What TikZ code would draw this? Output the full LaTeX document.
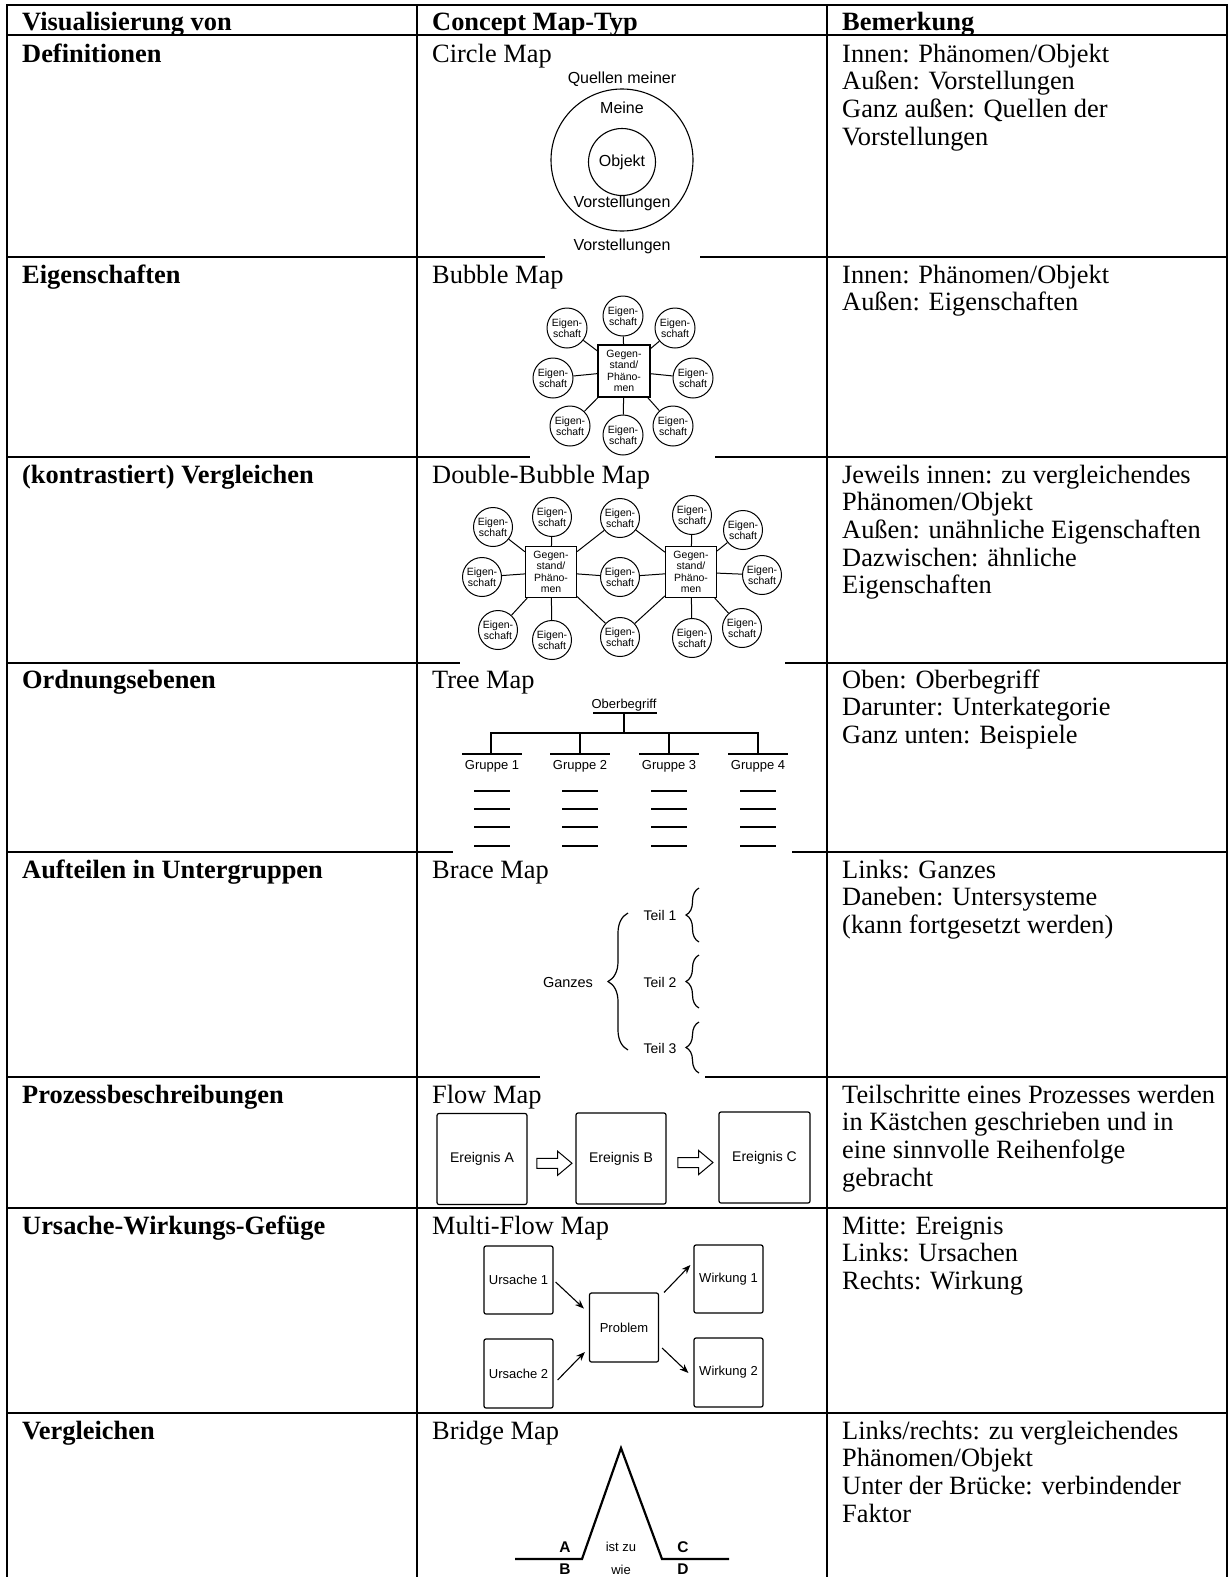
\documentclass[tikz,border=0pt]{standalone}
\usepackage{fontspec}
\setmainfont{Liberation Serif}
\newfontfamily\arial{Liberation Sans}
\usetikzlibrary{shapes.arrows,arrows.meta,decorations.pathreplacing,calc}
\newcommand\mycell[4]{%
  \foreach \lntext [count=\i] in {#4} {\node[txt] (#3-\i) at (#1,{#2+27.7*(\i-1)}) {\lntext};}}
\begin{document}
\begin{tikzpicture}[x=1pt,y=-1pt,
  gridline/.style={line width=2.2pt},
  txt/.style={anchor=base west,inner sep=0pt,font=\fontsize{26.4}{27.7}\selectfont},
  btxt/.style={anchor=base west,inner sep=0pt,font=\bfseries\fontsize{26.4}{27.7}\selectfont},
  sans/.style={inner sep=0pt,font=\arial\fontsize{#1}{#1}\selectfont},
  bub/.style={circle,draw,line width=1pt,minimum size=#1,inner sep=0pt,align=center,
              font=\arial\fontsize{10.5}{11.5}\selectfont},
  bub/.default=40pt,
  sqr/.style={draw,line width=1.2pt,minimum size=52pt,inner sep=0pt,align=center,
              font=\arial\fontsize{10.5}{11.3}\selectfont},
  conn/.style={line width=1pt},
  fbox/.style={draw,rounded corners=2pt,line width=1.2pt,minimum width=90pt,minimum height=91pt,
              font=\arial\fontsize{14}{16}\selectfont},
  mbox/.style={draw,rounded corners=2pt,line width=1.2pt,minimum width=69pt,minimum height=68pt,
              font=\arial\fontsize{13}{15}\selectfont},
  barrow/.style={single arrow,draw,line width=1pt,minimum height=35pt,minimum width=23pt,
              inner sep=4.5pt,single arrow head extend=7pt,single arrow tip angle=80},
  marrow/.style={line width=1.1pt,-{Stealth[length=9pt,width=7pt]}},
  tline/.style={line width=1.4pt},
  blines/.style={line width=2.2pt,line join=miter},
  brc/.style={decorate,line width=1.2pt,decoration={brace,amplitude=#1}},
  bsans/.style={inner sep=0pt,font=\arial\bfseries\fontsize{15.5}{15.5}\selectfont},
]
\useasboundingbox (0,0) rectangle (1230,1577);
\fill[white] (0,0) rectangle (1230,1577);
\clip (0,0) rectangle (1230,1577);

% ---------- table grid ----------
\foreach \yy in {5,35,257,457,663,852,1077,1208,1413}
  \draw[gridline] (6,\yy) -- (1228,\yy);
\foreach \xx in {7,417,827,1227}
  \draw[gridline] (\xx,4) -- (\xx,1577);
% white picture backgrounds that cover the row lines
\fill[white] (545,254) rectangle (700,260);
\fill[white] (530,454) rectangle (715,460);
\fill[white] (460,660) rectangle (785,666);
\fill[white] (453,849) rectangle (792,855);
\fill[white] (540,1074) rectangle (705,1080);

% ---------- header ----------
\node[btxt] (h1) at (22,30) {Visualisierung von};
\node[btxt] (h2) at (432,30) {Concept Map-Typ};
\node[btxt] (h3) at (842,30) {Bemerkung};

% ---------- column 1 ----------
\node[btxt] (c1r1) at (22,62) {Definitionen};
\node[btxt] (c1r2) at (22,283) {Eigenschaften};
\node[btxt] (c1r3) at (22,483) {(kontrastiert) Vergleichen};
\node[btxt] (c1r4) at (22,688) {Ordnungsebenen};
\node[btxt] (c1r5) at (22,878) {Aufteilen in Untergruppen};
\node[btxt] (c1r6) at (22,1103) {Prozessbeschreibungen};
\node[btxt] (c1r7) at (22,1234) {Ursache-Wirkungs-Gefüge};
\node[btxt] (c1r8) at (22,1439) {Vergleichen};

% ---------- column 2 titles ----------
\node[txt] (c2r1) at (432,62) {Circle Map};
\node[txt] (c2r2) at (432,283) {Bubble Map};
\node[txt] (c2r3) at (432,483) {Double-Bubble Map};
\node[txt] (c2r4) at (432,688) {Tree Map};
\node[txt] (c2r5) at (432,878) {Brace Map};
\node[txt] (c2r6) at (432,1103) {Flow Map};
\node[txt] (c2r7) at (432,1234) {Multi-Flow Map};
\node[txt] (c2r8) at (432,1439) {Bridge Map};

% ---------- column 3 ----------
\mycell{842}{62}{c3r1}{Innen: Phänomen/Objekt,Außen: Vorstellungen,Ganz außen: Quellen der,Vorstellungen}
\mycell{842}{283}{c3r2}{Innen: Phänomen/Objekt,Außen: Eigenschaften}
\mycell{842}{483}{c3r3}{Jeweils innen: zu vergleichendes,Phänomen/Objekt,Außen: unähnliche Eigenschaften,Dazwischen: ähnliche,Eigenschaften}
\mycell{842}{688}{c3r4}{Oben: Oberbegriff,Darunter: Unterkategorie,Ganz unten: Beispiele}
\mycell{842}{878}{c3r5}{Links: Ganzes,Daneben: Untersysteme,(kann fortgesetzt werden)}
\mycell{842}{1103}{c3r6}{Teilschritte eines Prozesses werden,in Kästchen geschrieben und in,eine sinnvolle Reihenfolge,gebracht}
\mycell{842}{1234}{c3r7}{Mitte: Ereignis,Links: Ursachen,Rechts: Wirkung}
\mycell{842}{1439}{c3r8}{Links/rechts: zu vergleichendes,Phänomen/Objekt,Unter der Brücke: verbindender,Faktor}

% ---------- Circle Map ----------
\node[circle,draw,line width=1.1pt,minimum size=142pt,inner sep=0pt] (cmout) at (622,160) {};
\node[circle,draw,line width=1.1pt,minimum size=67pt,inner sep=0pt,font=\arial\fontsize{16}{16}\selectfont] (cmin) at (622,162) {Objekt};
\node[sans=16,anchor=base] (cmq) at (622,83) {Quellen meiner};
\node[sans=16,anchor=base] (cmm) at (622,113) {Meine};
\node[sans=16,anchor=base] (cmv1) at (622,207) {Vorstellungen};
\node[sans=16,anchor=base] (cmv2) at (622,250) {Vorstellungen};

% ---------- Bubble Map ----------
\node[sqr] (bc) at (624,371) {Gegen-\\stand/\\Phäno-\\men};
\foreach \n/\xx/\yy in {b1/623/316,b2/567/328,b3/675/328,b4/553/378,b5/693/378,b6/570/426,b7/623/435,b8/673/426}{
  \node[bub] (\n) at (\xx,\yy) {Eigen-\\schaft};
  \draw[conn] (bc) -- (\n);
}

% ---------- Double-Bubble Map ----------
\node[sqr,minimum size=51pt] (dl) at (551,572) {Gegen-\\stand/\\Phäno-\\men};
\node[sqr,minimum size=51pt] (dr) at (691,572) {Gegen-\\stand/\\Phäno-\\men};
\foreach \n/\xx/\yy in {d1/482/577,d2/493/527,d3/552/517,d4/498/630,d5/552/640}{
  \node[bub=39pt] (\n) at (\xx,\yy) {Eigen-\\schaft};
  \draw[conn] (dl) -- (\n);
}
\foreach \n/\xx/\yy in {e1/692/515,e2/743/530,e3/762/575,e4/742/628,e5/692/638}{
  \node[bub=39pt] (\n) at (\xx,\yy) {Eigen-\\schaft};
  \draw[conn] (dr) -- (\n);
}
\foreach \n/\xx/\yy in {m1/620/518,m2/620/577,m3/620/637}{
  \node[bub=39pt] (\n) at (\xx,\yy) {Eigen-\\schaft};
  \draw[conn] (dl) -- (\n) -- (dr);
}

% ---------- Tree Map ----------
\node[sans=13,anchor=base] (tob) at (624,708) {Oberbegriff};
\draw[tline] (593,713) -- (657,713);
\draw[tline] (624,713) -- (624,733);
\draw[tline] (491,754) -- (491,733) -- (758,733) -- (758,754);
\draw[tline] (580,733) -- (580,754);
\draw[tline] (669,733) -- (669,754);
\foreach \gx [count=\i] in {492,580,669,758}{
  \draw[tline] (\gx-30,754) -- (\gx+30,754);
  \node[sans=13,anchor=base] (tg\i) at (\gx,769) {Gruppe \i};
  \foreach \ly in {791,809,827,846}
    \draw[tline] (\gx-18,\ly) -- (\gx+18,\ly);
}

% ---------- Brace Map ----------
\node[sans=14.5] (bg) at (568,982) {Ganzes};
\node[sans=14] (bt1) at (660,915) {Teil 1};
\node[sans=14] (bt2) at (660,982) {Teil 2};
\node[sans=14] (bt3) at (660,1048) {Teil 3};
\draw[brc=20pt] (628,1050) -- (628,913);
\draw[brc=13pt] (699,942) -- (699,888);
\draw[brc=13pt] (699,1008) -- (699,955);
\draw[brc=13pt] (699,1073) -- (699,1022);

% ---------- Flow Map ----------
\node[fbox] (fa) at (482,1159) {Ereignis A};
\node[fbox] (fb) at (621,1158.5) {Ereignis B};
\node[fbox,minimum width=91pt] (fc) at (764.5,1157.5) {Ereignis C};
\node[barrow] (fab) at ($(fa.east)!0.5!(fb.west)+(0,4.5)$) {};
\node[barrow] (fbc) at ($(fb.east)!0.5!(fc.west)+(0,4.5)$) {};

% ---------- Multi-Flow Map ----------
\node[mbox] (u1) at (518.5,1280) {Ursache 1};
\node[mbox] (w1) at (728.5,1279) {Wirkung 1};
\node[mbox,minimum height=69pt] (pr) at (624,1327.5) {Problem};
\node[mbox,minimum height=69pt] (u2) at (518.5,1373.5) {Ursache 2};
\node[mbox,minimum height=69pt] (w2) at (728.5,1372.5) {Wirkung 2};
\draw[marrow] ($(u1.east)+(2,2)$) -- ($(pr.west)+(-5,-19)$);
\draw[marrow] ($(u2.east)+(4,6.5)$) -- ($(pr.west)+(-4,24.5)$);
\draw[marrow] ($(pr.north east)+(5,0)$) -- ($(w1.west)+(-3,-14)$);
\draw[marrow] ($(pr.east)+(3,20.5)$) -- ($(w2.west)+(-5,0.5)$);

% ---------- Bridge Map ----------
\coordinate (brl) at (515,1559);
\coordinate (brr) at (729,1559);
\draw[blines] (brl) -- (582,1559) -- (621,1448) -- (662,1559) -- (brr);
\node[bsans] (bra) at (565,1547) {A};
\node[bsans] (brc) at (683,1547) {C};
\node[sans=13] (brz) at (621,1547) {ist zu};
\node[bsans] (brb) at (565,1569.5) {B};
\node[bsans] (brd) at (683,1569.5) {D};
\node[sans=13] (brw) at (621,1570) {wie};
\end{tikzpicture}
\end{document}
